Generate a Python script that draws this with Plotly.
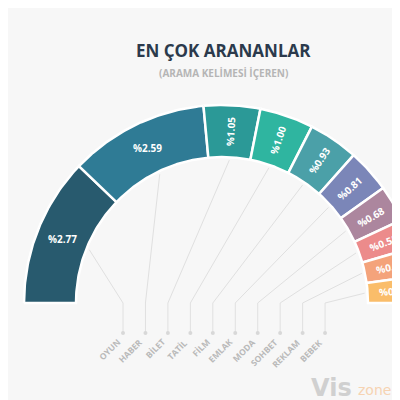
import numpy as np
import plotly.graph_objects as go

# search keywords and their share (%)
keywords = ["OYUN", "HABER", "BİLET", "TATİL", "FİLM", "EMLAK", "MODA", "SOHBET", "REKLAM", "BEBEK"]
share = [2.77, 2.59, 1.05, 1.00, 0.93, 0.81, 0.68, 0.55, 0.52, 0.50]
colors = ["#285a6e", "#2f7b95", "#2b9997", "#2fb5a0", "#4ba0a8",
          "#7b86b8", "#ac869e", "#ec8b8b", "#f4a37b", "#fabd6a"]

R_OUT, R_IN = 198, 146
BG = "#f7f7f7"

fig = go.Figure()

total = sum(share)
start = 180.0
mids = []
for name, v, c in zip(keywords, share, colors):
    span = 180.0 * v / total
    end = start - span
    t = np.radians(np.linspace(start, end, 60))
    xs = np.concatenate([R_OUT * np.cos(t), R_IN * np.cos(t[::-1]), [R_OUT * np.cos(t[0])]])
    ys = np.concatenate([R_OUT * np.sin(t), R_IN * np.sin(t[::-1]), [R_OUT * np.sin(t[0])]])
    fig.add_trace(go.Scatter(x=xs, y=ys, mode='lines', fill='toself',
                             fillcolor=c, line=dict(color='white', width=2.5),
                             hoverinfo='skip', showlegend=False))
    mids.append((start + end) / 2)
    start = end

# value labels inside the ring
r_mid = (R_OUT + R_IN) / 2
for v, m in zip(share, mids):
    ang = 0 if m > 115 else -min(m, 90)
    fig.add_annotation(x=r_mid * np.cos(np.radians(m)), y=r_mid * np.sin(np.radians(m)),
                       text="<b>%" + "{:.2f}".format(v) + "</b>",
                       showarrow=False, textangle=ang,
                       font=dict(family="Open Sans", size=10, color="white"))

# leader lines down to the keyword labels
for i, (name, m) in enumerate(zip(keywords, mids)):
    lx = -99 + 22.45 * i
    sx = (R_IN - 3) * np.cos(np.radians(m))
    sy = (R_IN - 3) * np.sin(np.radians(m))
    fig.add_trace(go.Scatter(x=[sx, lx, lx], y=[sy, 0, -30], mode='lines',
                             line=dict(color="#e0e0e0", width=1),
                             hoverinfo='skip', showlegend=False))
    fig.add_trace(go.Scatter(x=[lx], y=[-30], mode='markers',
                             marker=dict(color="#d8d8d8", size=4),
                             hoverinfo='skip', showlegend=False))
    fig.add_annotation(x=lx + 2, y=-31, text="<b>" + name + "</b>", showarrow=False,
                       textangle=-45, xanchor='right', yanchor='top',
                       font=dict(family="Open Sans", size=8.5, color="#bababa"))

# titles
fig.add_annotation(x=1, y=253, text="<b>EN ÇOK ARANANLAR</b>", showarrow=False,
                   font=dict(family="Open Sans", size=17, color="#2b3a4c"))
fig.add_annotation(x=1, y=230, text="<b>(ARAMA KELİMESİ İÇEREN)</b>", showarrow=False,
                   font=dict(family="Open Sans", size=10, color="#b5b5b5"))

# watermark
fig.add_annotation(x=109, y=-85, text="<b>Vis</b>", showarrow=False,
                   font=dict(family="DejaVu Sans", size=24, color="#d0d0d0"))
fig.add_annotation(x=152, y=-87, text="zone", showarrow=False,
                   font=dict(family="DejaVu Sans", size=14, color="#f6d3b2"))

# page body has an 8px margin, so the axis ranges are shifted to compensate
fig.update_layout(
    width=400, height=400,
    margin=dict(l=0, r=0, t=0, b=0),
    paper_bgcolor=BG, plot_bgcolor=BG,
    xaxis=dict(range=[-214, 186], visible=False, fixedrange=True),
    yaxis=dict(range=[-105, 295], visible=False, scaleanchor='x', fixedrange=True),
    showlegend=False
)

fig.write_html("out.html")
